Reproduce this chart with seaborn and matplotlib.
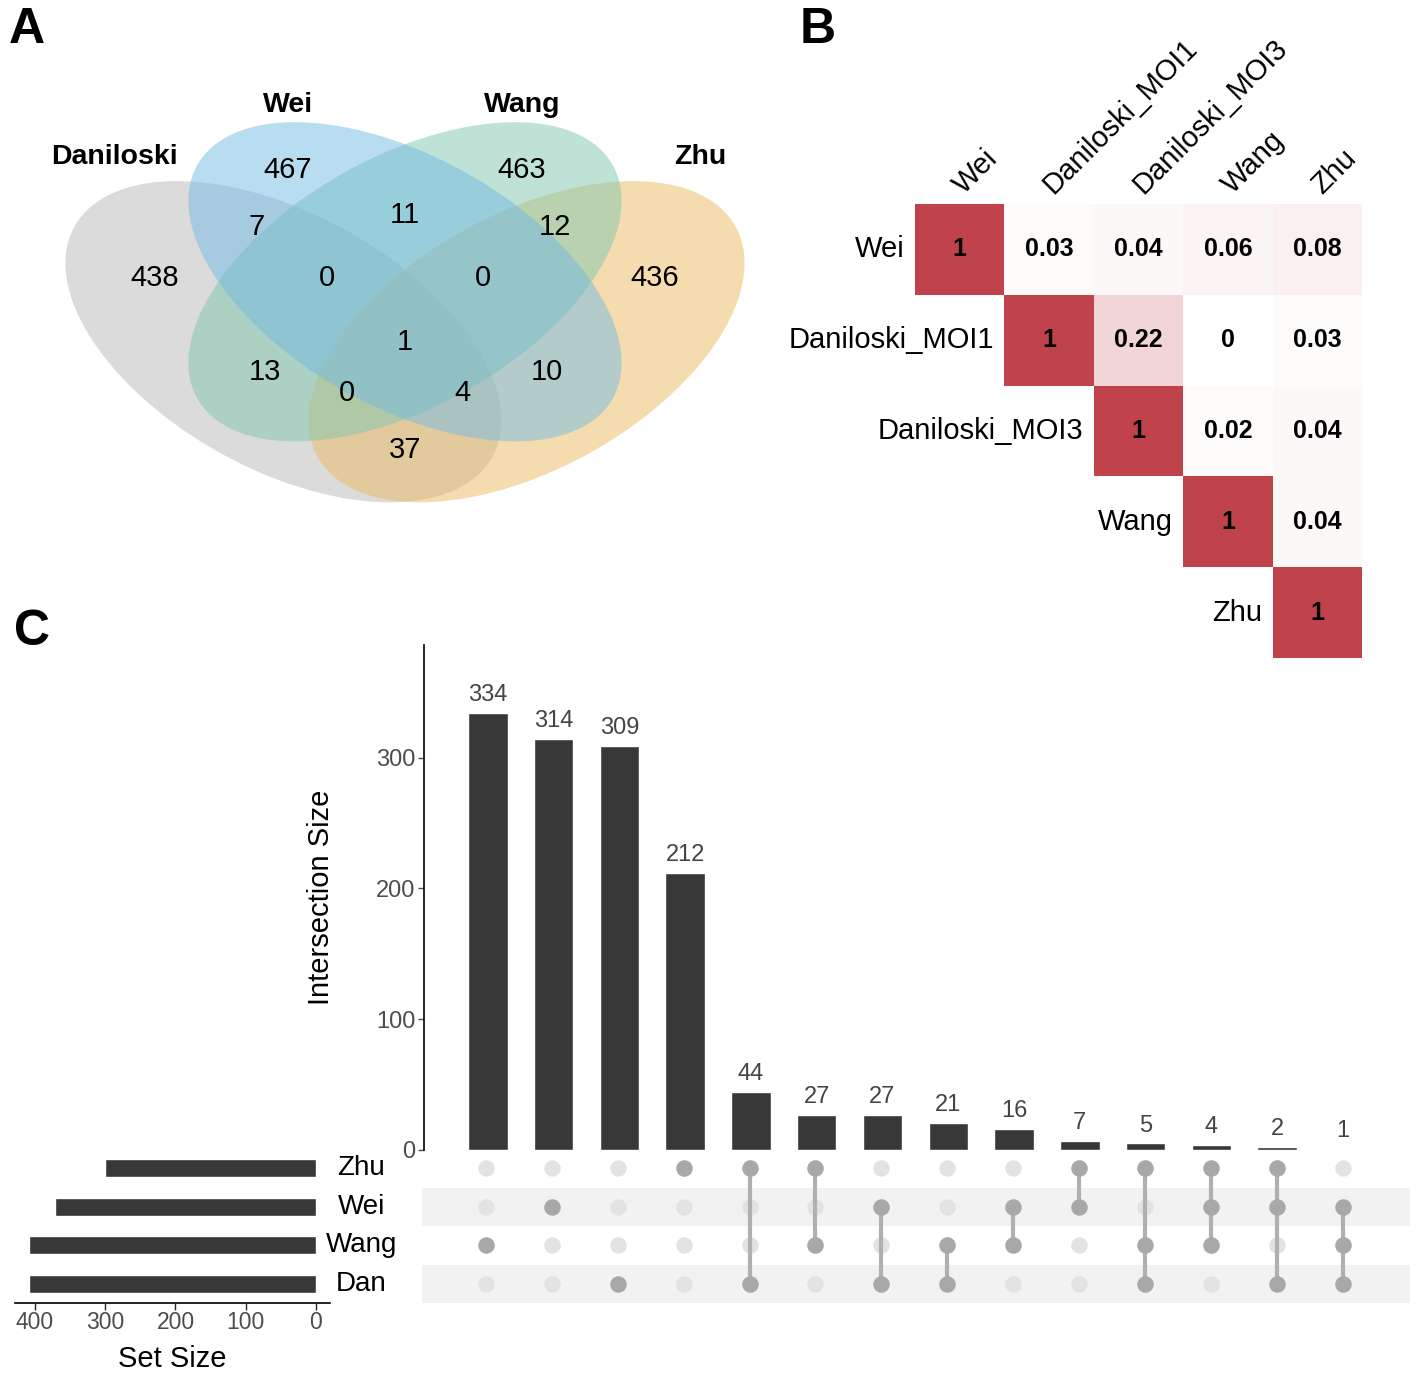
import numpy as np
import pandas as pd
import seaborn as sns
import matplotlib.pyplot as plt
from matplotlib.patches import Ellipse
from matplotlib.colors import LinearSegmentedColormap

sns.set_style("white")
plt.rcParams['font.family'] = ['Liberation Sans', 'DejaVu Sans']
plt.rcParams['text.color'] = 'black'
plt.rcParams['axes.labelcolor'] = 'black'

# ---- data
# A: venn
venn_sets = ['Daniloski', 'Wei', 'Wang', 'Zhu']
venn_colors = ['#B9B9B9', '#73BBE3', '#7FC7AF', '#EBBB61']
venn_counts = [438, 467, 463, 436, 7, 11, 12, 0, 0, 1, 13, 10, 0, 4, 37]

# B: overlap matrix
corr_names = ['Wei', 'Daniloski_MOI1', 'Daniloski_MOI3', 'Wang', 'Zhu']
corr_vals = [[1, 0.03, 0.04, 0.06, 0.08],
             [None, 1, 0.22, 0, 0.03],
             [None, None, 1, 0.02, 0.04],
             [None, None, None, 1, 0.04],
             [None, None, None, None, 1]]

# C: upset
upset_sets = ['Zhu', 'Wei', 'Wang', 'Dan']
set_sizes = [301, 371, 408, 409]
inter_sizes = [334, 314, 309, 212, 44, 27, 27, 21, 16, 7, 5, 4, 2, 1]
inter_members = [['Wang'], ['Wei'], ['Dan'], ['Zhu'],
                 ['Zhu', 'Dan'], ['Zhu', 'Wang'], ['Wei', 'Dan'], ['Wang', 'Dan'],
                 ['Wei', 'Wang'], ['Zhu', 'Wei'], ['Zhu', 'Wang', 'Dan'],
                 ['Zhu', 'Wei', 'Wang'], ['Zhu', 'Wei', 'Dan'], ['Wei', 'Wang', 'Dan']]

W, H = 1418, 1375


def box(x0, y0, x1, y1):
    # pixel box -> figure fraction
    return [x0 / W, 1 - y1 / H, (x1 - x0) / W, (y1 - y0) / H]


fig = plt.figure(figsize=(W / 100, H / 100), dpi=100)

# ---- A: venn diagram
ax_v = fig.add_axes(box(25, 41, 785, 601))
ax_v.patch.set_alpha(0)
ell_xy = [(0.34, 0.463), (0.5, 0.57), (0.5, 0.57), (0.66, 0.463)]
ell_ang = [135, 135, 45, 45]
ell_h = [0.41, 0.40, 0.40, 0.41]
# draw order: Daniloski, Zhu, Wang, Wei (blue ends on top)
for k in [0, 3, 2, 1]:
    ax_v.add_patch(Ellipse(ell_xy[k], 0.70, ell_h[k], angle=ell_ang[k],
                           facecolor=venn_colors[k], alpha=0.5, edgecolor='none'))
lab_xy = [(0.118, 0.793), (0.346, 0.886), (0.654, 0.886), (0.888, 0.793)]
for name, (x, y) in zip(venn_sets, lab_xy):
    ax_v.text(x, y, name, ha='center', va='center', fontsize=20.5,
              fontweight='bold')
cnt_xy = [(0.171, 0.577), (0.346, 0.770), (0.654, 0.770), (0.829, 0.577),
          (0.305, 0.668), (0.5, 0.689), (0.697, 0.668), (0.397, 0.577),
          (0.603, 0.577), (0.5, 0.4625), (0.316, 0.409), (0.687, 0.409),
          (0.424, 0.371), (0.576, 0.371), (0.5, 0.270)]
for n, (x, y) in zip(venn_counts, cnt_xy):
    ax_v.text(x, y, str(n), ha='center', va='center', fontsize=21)
ax_v.set_xlim(0, 1)
ax_v.set_ylim(0, 1)
ax_v.axis('off')

# ---- B: heatmap
ax_h = fig.add_axes(box(915, 204, 1362, 658))
df = pd.DataFrame(corr_vals, index=corr_names, columns=corr_names, dtype=float)
cmap = LinearSegmentedColormap.from_list('wr', ['#FFFFFF', '#C0424B'])
sns.heatmap(df, mask=df.isna(), cmap=cmap, vmin=0, vmax=1, annot=True, fmt='g',
            annot_kws={'fontsize': 18, 'fontweight': 'bold', 'color': 'black'},
            cbar=False, xticklabels=False, yticklabels=False, ax=ax_h)
for i, name in enumerate(corr_names):
    ax_h.text(i - 0.12, i + 0.5, name, ha='right', va='center', fontsize=21)
    ax_h.text(i + 0.55, -0.1, name, ha='left', va='baseline', fontsize=21,
              rotation=45, rotation_mode='anchor')

# ---- C: upset plot
xl = (-0.97, 14.02)
ax_b = fig.add_axes(box(424, 645, 1410, 1150))
ax_b.patch.set_alpha(0)
sns.barplot(x=list(range(len(inter_sizes))), y=inter_sizes, color='#383838',
            width=0.6, saturation=1, ax=ax_b)
ax_b.bar_label(ax_b.containers[0], padding=5, fontsize=17, color='#444444')
ax_b.set_xlim(*xl)
ax_b.set_ylim(0, 386)
ax_b.set_yticks([0, 100, 200, 300])
ax_b.set_xticks([])
ax_b.set_ylabel('Intersection Size', fontsize=21, labelpad=30)
ax_b.tick_params(axis='y', labelsize=17, labelcolor='#4D4D4D', length=4,
                 width=1, color='#4D4D4D', left=True, pad=2)
for s in ['top', 'right', 'bottom']:
    ax_b.spines[s].set_visible(False)
ax_b.spines['left'].set_color('black')
ax_b.spines['left'].set_linewidth(1.2)

ax_m = fig.add_axes(box(422, 1149, 1410, 1303))
ax_m.set_xlim(*xl)
ax_m.set_ylim(3.5, -0.5)
for r in [1, 3]:
    ax_m.axhspan(r - 0.5, r + 0.5, color='#F2F2F2', zorder=0, lw=0)
for j, mem in enumerate(inter_members):
    rows = [upset_sets.index(m) for m in mem]
    ax_m.scatter([j] * 4, range(4), s=140, color='#E3E3E3', zorder=2, lw=0)
    if len(rows) > 1:
        ax_m.plot([j, j], [min(rows), max(rows)], color='#B0B0B0', lw=3, zorder=3)
    ax_m.scatter([j] * len(rows), rows, s=140, color='#A8A8A8', zorder=4, lw=0)
ax_m.axis('off')

ax_s = fig.add_axes(box(15, 1149, 330, 1303))
sns.barplot(x=set_sizes, y=upset_sets, orient='h', color='#383838', width=0.47,
            saturation=1, ax=ax_s)
ax_s.set_xlim(428.5, -20)
ax_s.set_ylim(3.5, -0.5)
ax_s.set_xticks([400, 300, 200, 100, 0])
ax_s.set_yticks([])
ax_s.set_ylabel('')
ax_s.set_xlabel('Set Size', fontsize=21, labelpad=8)
ax_s.tick_params(axis='x', labelsize=16.5, labelcolor='#4D4D4D', length=5,
                 width=1, bottom=True, pad=1)
for s in ['top', 'right', 'left']:
    ax_s.spines[s].set_visible(False)
ax_s.spines['bottom'].set_color('black')
ax_s.spines['bottom'].set_linewidth(1.2)
for i, name in enumerate(upset_sets):
    ax_s.text(1.1, i, name, transform=ax_s.get_yaxis_transform(),
              ha='center', va='center', fontsize=20)

# panel letters
for lab, (px, py) in zip(['A', 'B', 'C'], [(27, 30), (818, 30), (32, 632)]):
    fig.text(px / W, 1 - py / H, lab, ha='center', va='center', fontsize=36,
             fontweight='bold')

fig.savefig('out.png', dpi=100)
